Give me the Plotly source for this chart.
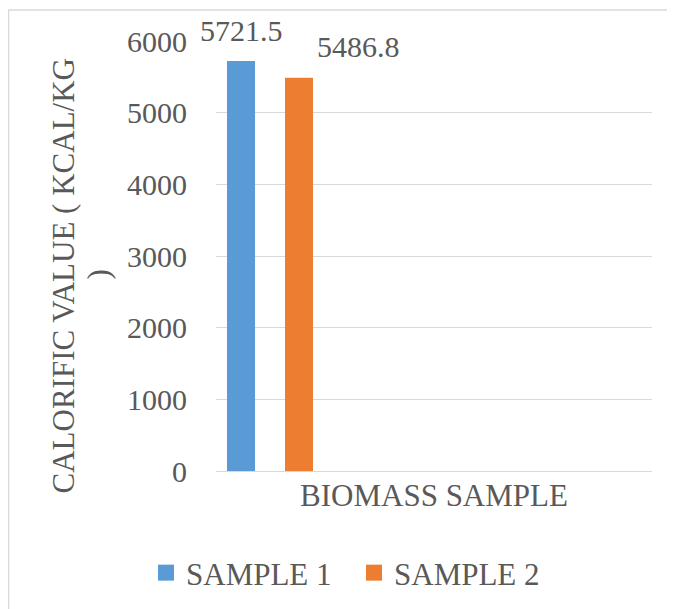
import plotly.graph_objects as go

categories = ["BIOMASS SAMPLE"]
series_names = ["SAMPLE 1", "SAMPLE 2"]
sample1 = [5721.5]
sample2 = [5486.8]
y_ticks = [0, 1000, 2000, 3000, 4000, 5000, 6000]
y_title_lines = ["CALORIFIC VALUE ( KCAL/KG", ")"]

colors = ["#5B9BD5", "#ED7D31"]
text_col = "#595959"
FONT = "Liberation Serif"

# page has an 8px body margin; figure sized to fit the window
OX, OY = 8, 8
W, H = 675 - OX, 609 - OY
# plot area in screen pixels: x 216..652, y 41..471
L, R = 216 - OX, W - (652 - OX)
T, B = 41 - OY, H - (471 - OY)
pw = W - L - R
ph = H - T - B
cx = (216 + 652) / 2

def px(sx):
    return (sx - 216) / pw

def py(sy):
    return (471 - sy) / ph

bar_w = 28 / pw
offsets = [(227 - cx) / pw, (285 - cx) / pw]
label_xshift = [0, 59]
label_yshift = [12, 13]

fig = go.Figure()
for name, vals, col, off in zip(series_names, [sample1, sample2], colors, offsets):
    fig.add_trace(go.Bar(
        x=categories, y=vals, name=name, marker=dict(color=col, line=dict(width=0)),
        width=bar_w, offset=off, showlegend=False,
    ))
    fig.add_trace(go.Scatter(
        x=[None], y=[None], mode="markers", name=name,
        marker=dict(symbol="square", size=16, color=col),
    ))

for vals, off, xs, ys in zip([sample1, sample2], offsets, label_xshift, label_yshift):
    for i, v in enumerate(vals):
        fig.add_annotation(
            x=i + off + bar_w / 2, y=v, xref="x", yref="y", text=f"{v:.1f}",
            showarrow=False, xanchor="center", yanchor="bottom",
            xshift=xs, yshift=ys, font=dict(family=FONT, size=30, color=text_col),
        )

# y-axis title (two lines, Excel-like tight line spacing)
for line, sx, sy in zip(y_title_lines, [62.5, 98], [276, 274.5]):
    fig.add_annotation(
        x=px(sx), y=py(sy), xref="paper", yref="paper",
        text=line, textangle=-90, showarrow=False,
        xanchor="center", yanchor="middle",
        font=dict(family=FONT, size=31, color=text_col),
    )

# outer chart border
fig.add_shape(
    type="rect", xref="paper", yref="paper",
    x0=px(8.5), x1=px(700), y0=py(640), y1=py(10),
    line=dict(color="#D9D9D9", width=1.5), fillcolor="rgba(0,0,0,0)", layer="below",
)

fig.update_layout(
    width=W, height=H,
    margin=dict(l=L, r=R, t=T, b=B, autoexpand=False),
    paper_bgcolor="white", plot_bgcolor="white",
    barmode="overlay",
    font=dict(family=FONT, size=31, color=text_col),
    xaxis=dict(
        type="category", range=[-0.5, 0.5], showgrid=False, zeroline=False,
        showline=False, ticks="", tickfont=dict(family=FONT, size=31, color=text_col),
        ticklabelstandoff=3, fixedrange=True,
    ),
    yaxis=dict(
        range=[0, 6000], tickvals=y_ticks, showgrid=True, gridcolor="#D9D9D9",
        gridwidth=1, zeroline=True, zerolinecolor="#D9D9D9", zerolinewidth=1,
        showline=False, ticks="", tickfont=dict(family=FONT, size=30, color=text_col),
        ticklabelstandoff=28, fixedrange=True,
    ),
    legend=dict(
        orientation="h", x=px(146), y=py(573), xanchor="left",
        yanchor="middle", font=dict(family=FONT, size=31, color=text_col), itemsizing="trace",
        entrywidth=163, bgcolor="rgba(0,0,0,0)",
    ),
)

fig.write_html("out.html")
